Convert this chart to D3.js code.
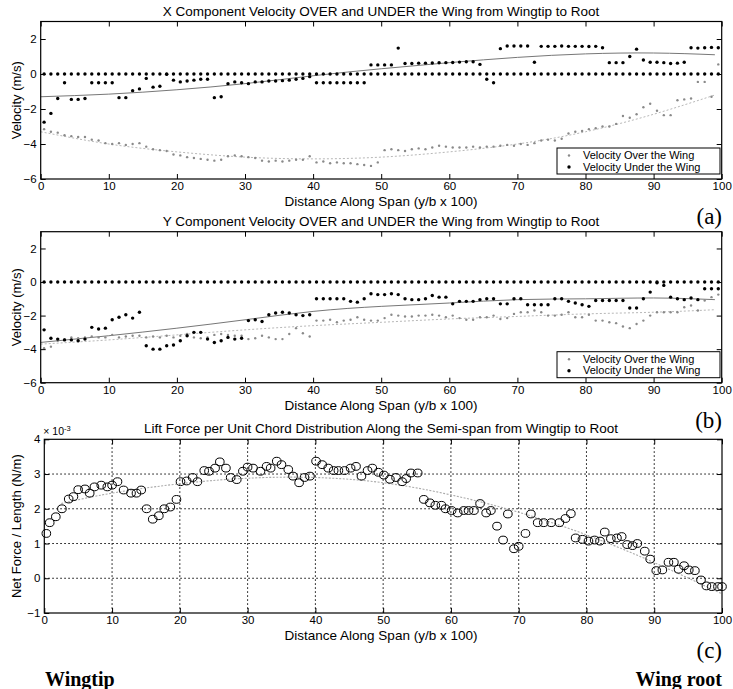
<!DOCTYPE html>
<html>
<head>
<meta charset="utf-8">
<script src="https://cdn.jsdelivr.net/npm/d3@7/dist/d3.min.js"></script>
<style>
body { margin: 0; background: #fff; }
svg text { font-family: "Liberation Sans", Arial, sans-serif; fill: #000; }
.serif { font-family: "Liberation Serif", "DejaVu Serif", serif; }
</style>
</head>
<body>
<svg id="fig" width="733" height="689"></svg>
<script>
// span stations (y/b x 100) for the velocity panels
var spanX = d3.range(0.5, 100, 1);
var spanTicks = [0, 10, 20, 30, 40, 50, 60, 70, 80, 90, 100];
var velTicks = [-6, -4, -2, 0, 2];
var liftTicks = [-1, 0, 1, 2, 3, 4];
var fitX = [0, 10, 20, 30, 40, 50, 60, 70, 80, 90, 99];

// (a) X component
var xOver = [-3.15,-3.3,-3.35,-3.5,-3.55,-3.6,-3.6,-3.75,-3.8,-3.95,
  -4.0,-3.95,-4.05,-4.0,-3.95,-4.15,-4.3,-4.35,-4.4,-4.6,
  -4.65,-4.75,-4.8,-4.85,-4.9,-4.95,-4.9,-4.7,-4.65,-4.7,
  -4.75,-4.8,-4.95,-5.0,-4.95,-5.0,-4.95,-4.9,-4.9,-4.7,
  -5.05,-5.0,-5.1,-5.05,-5.1,-5.1,-5.15,-5.2,-5.25,-5.05,
  -4.35,-4.3,-4.35,-4.4,-4.3,-4.25,-4.3,-4.2,-4.1,-4.15,
  -4.2,-4.2,-4.2,-4.15,-4.2,-4.15,-4.15,-4.1,-4.05,-4.1,
  -4.0,-4.05,-3.95,-3.8,-3.75,-3.8,-3.7,-3.4,-3.3,-3.25,
  -3.15,-3.1,-3.0,-3.0,-2.85,-2.4,-2.5,-2.3,-1.9,-1.7,
  -2.1,-2.35,-2.35,-1.5,-1.45,-1.4,-0.45,-0.45,-1.3,0.55];
var xUnder = [-2.75,-2.25,-1.4,-0.5,-1.45,-1.45,-1.4,-0.5,-0.5,-0.5,
  -0.5,-1.35,-1.35,-0.95,-0.85,-0.25,-0.75,-0.7,-0.02,-0.35,
  -0.45,-0.4,-0.35,-0.3,-0.3,-1.35,-1.3,-0.55,-0.45,-0.5,
  -0.55,-0.45,-0.45,-0.4,-0.4,-0.38,-0.35,-0.3,-0.25,-0.15,
  -0.5,-0.5,-0.5,-0.5,-0.5,-0.5,-0.5,-0.5,0.52,0.52,
  0.52,0.52,1.48,0.6,0.6,0.62,0.62,0.63,0.64,0.65,
  0.66,0.68,0.7,0.7,0.55,-0.3,-0.5,1.45,1.6,1.6,
  1.6,1.6,0.67,1.58,1.58,1.58,1.6,1.58,1.58,1.58,
  1.57,1.58,1.5,0.65,0.65,0.65,1.0,1.42,0.8,0.67,
  0.67,0.65,0.6,0.62,0.67,1.5,1.48,1.5,1.52,1.5];
var xUnderFit = [-1.3,-1.15,-0.9,-0.55,-0.1,0.3,0.65,0.95,1.15,1.2,1.1];
var xOverFit = [-3.3,-4.0,-4.45,-4.75,-4.85,-4.75,-4.45,-4.0,-3.3,-2.3,-1.2];

// (b) Y component
var yOver = [-3.95,-3.85,-3.5,-3.4,-3.3,-3.35,-3.3,-3.25,-3.3,-3.3,
  -3.15,-3.3,-3.25,-3.2,-3.2,-3.3,-3.25,-3.3,-3.2,-3.3,
  -3.2,-3.1,-3.3,-3.35,-3.3,-3.15,-3.1,-3.15,-3.2,-3.2,
  -3.4,-3.35,-3.2,-3.3,-3.4,-3.4,-3.1,-2.75,-3.05,-3.25,
  -2.3,-2.3,-2.25,-2.4,-2.3,-2.25,-2.1,-2.25,-2.3,-2.3,
  -2.15,-1.95,-2.0,-2.05,-2.05,-2.0,-2.0,-1.95,-2.0,-2.1,
  -2.0,-2.15,-2.25,-2.25,-2.1,-2.1,-2.0,-2.2,-2.15,-1.9,
  -1.8,-1.8,-1.7,-1.8,-2.0,-2.0,-1.95,-1.8,-2.1,-2.1,
  -1.95,-2.3,-2.3,-2.4,-2.45,-2.65,-2.75,-2.5,-2.3,-2.0,
  -1.8,-1.8,-1.8,-1.8,-1.5,-1.4,-1.7,-1.1,-0.9,-0.75];
var yUnder = [-2.85,-3.35,-3.4,-3.45,-3.45,-3.5,-3.4,-2.7,-2.8,-2.75,
  -2.25,-2.1,-1.95,-2.15,-1.8,-3.8,-4.0,-4.0,-3.8,-3.75,
  -3.5,-3.2,-3.0,-3.0,-3.4,-3.6,-3.5,-3.3,-3.4,-3.35,
  -2.3,-2.25,-2.35,-1.95,-1.85,-1.8,-1.85,-1.95,-2.0,-1.95,
  -1.0,-1.0,-1.0,-1.0,-1.0,-1.15,-1.2,-1.0,-0.7,-0.75,
  -0.75,-0.7,-0.75,-1.0,-1.05,-1.05,-1.0,-0.8,-0.9,-0.9,
  -1.3,-1.15,-1.15,-1.15,-1.05,-1.0,-1.0,-1.3,-1.3,-1.0,
  -1.0,-1.35,-1.35,-1.35,-1.35,-1.0,-1.0,-1.15,-1.25,-1.35,
  -1.45,-1.1,-1.1,-1.1,-1.1,-1.1,-1.55,-1.55,-1.0,-0.6,
  -0.05,-0.2,-0.9,-1.0,-1.05,-0.95,-1.05,-0.4,-0.4,-0.4];
var yUnderFit = [-3.6,-3.2,-2.75,-2.25,-1.75,-1.45,-1.25,-1.05,-1.0,-0.95,-1.05];
var yOverFit = [-3.7,-3.45,-3.15,-2.85,-2.6,-2.4,-2.2,-2.05,-1.9,-1.8,-1.65];

// (c) lift per unit chord, in units of 1e-3 N/m
var liftX = [0.3,0.8,1.7,2.6,3.6,4.3,5.0,6.0,6.7,7.4,
  8.4,9.3,10.0,10.8,11.7,12.8,13.6,14.3,15.1,16.0,
  16.9,17.7,18.6,19.5,20.1,21.0,21.9,22.6,23.6,24.3,
  25.2,25.9,26.8,27.5,28.4,29.3,30.0,30.8,31.9,32.8,
  33.4,34.3,35.0,36.0,36.7,37.6,38.4,39.2,40.1,41.0,
  41.9,42.7,43.4,44.3,45.2,46.0,46.8,47.7,48.4,49.3,
  50.1,51.0,51.9,52.8,53.4,54.1,55.1,56.0,56.9,57.7,
  58.6,59.2,60.1,61.0,61.9,62.6,63.4,64.3,65.2,65.9,
  66.8,67.7,68.4,69.3,70.0,71.0,71.8,72.8,73.7,74.8,
  76.0,76.9,77.7,78.4,79.4,80.3,81.2,82.0,82.7,83.6,
  84.5,85.2,86.0,86.8,87.5,88.6,89.4,90.3,91.2,92.1,
  92.9,93.6,94.4,95.1,96.0,96.9,97.7,98.5,99.4,100.0];
var liftY = [1.29,1.6,1.77,2.0,2.28,2.35,2.55,2.57,2.45,2.63,
  2.68,2.63,2.68,2.78,2.54,2.45,2.45,2.54,2.0,1.7,
  1.8,2.0,2.05,2.27,2.78,2.8,2.9,2.78,3.1,3.08,
  3.17,3.35,3.17,2.9,2.84,3.08,3.2,3.17,3.08,3.22,
  3.17,3.37,3.27,3.13,2.94,2.75,2.9,2.94,3.37,3.27,
  3.17,3.1,3.1,3.1,3.17,3.22,2.94,3.1,3.17,3.05,
  2.97,2.85,2.9,2.78,2.87,3.03,3.03,2.27,2.17,2.1,
  2.1,2.0,1.95,1.88,1.95,1.95,1.95,2.15,1.88,1.95,
  1.5,1.1,1.85,0.85,0.92,1.29,1.85,1.6,1.6,1.6,
  1.6,1.72,1.86,1.16,1.12,1.07,1.1,1.07,1.33,1.14,
  1.16,1.2,0.97,0.94,1.0,0.78,0.55,0.22,0.24,0.46,
  0.46,0.26,0.36,0.24,0.22,-0.05,-0.22,-0.24,-0.24,-0.24];
var liftFitX = [2.5, 10, 20, 30, 40, 50, 60, 70, 80, 90, 100];
var liftFit = [2.15,2.45,2.72,2.88,2.9,2.75,2.4,1.9,1.25,0.45,-0.45];

var svg = d3.select('#fig');

drawVelocity({
  top: 21.5, bottom: 179, left: 40.7, right: 721.7,
  title: 'X Component Velocity OVER and UNDER the Wing from Wingtip to Root',
  over: xOver, under: xUnder, overFit: xOverFit, underFit: xUnderFit,
  tag: '(a)'
});

drawVelocity({
  top: 231.7, bottom: 382.7, left: 40.7, right: 721.7,
  title: 'Y Component Velocity OVER and UNDER the Wing from Wingtip to Root',
  over: yOver, under: yUnder, overFit: yOverFit, underFit: yUnderFit,
  tag: '(b)'
});

drawLift({ top: 439.3, bottom: 613, left: 44.3, right: 722 });

svg.append('text').attr('class', 'serif')
  .attr('x', 45).attr('y', 686)
  .style('font-size', '20px').style('font-weight', 'bold')
  .text('Wingtip');
svg.append('text').attr('class', 'serif')
  .attr('x', 722).attr('y', 686).attr('text-anchor', 'end')
  .style('font-size', '20px').style('font-weight', 'bold')
  .text('Wing root');


function frame(g, x, y, box, yTicks) {
  g.append('g')
    .attr('transform', 'translate(0,' + box.bottom + ')')
    .call(d3.axisBottom(x).tickValues(spanTicks).tickSizeInner(-5).tickSizeOuter(0).tickPadding(3))
    .call(styleAxis);
  g.append('g')
    .attr('transform', 'translate(0,' + box.top + ')')
    .call(d3.axisTop(x).tickValues(spanTicks).tickSizeInner(-5).tickSizeOuter(0).tickFormat(''))
    .call(styleAxis);
  g.append('g')
    .attr('transform', 'translate(' + box.left + ',0)')
    .call(d3.axisLeft(y).tickValues(yTicks).tickSizeInner(-5).tickSizeOuter(0).tickPadding(4).tickFormat(d3.format('d')))
    .call(styleAxis);
  g.append('g')
    .attr('transform', 'translate(' + box.right + ',0)')
    .call(d3.axisRight(y).tickValues(yTicks).tickSizeInner(-5).tickSizeOuter(0).tickFormat(''))
    .call(styleAxis);
  g.append('rect')
    .attr('x', box.left).attr('y', box.top)
    .attr('width', box.right - box.left).attr('height', box.bottom - box.top)
    .attr('fill', 'none').attr('stroke', '#000').attr('stroke-width', 1.2);
}

function styleAxis(sel) {
  sel.select('.domain').remove();
  sel.selectAll('.tick line').attr('stroke', '#000');
  sel.selectAll('.tick text')
    .style('font-family', '"Liberation Sans", Arial, sans-serif')
    .style('font-size', '11.5px');
}

function labels(box, title, tag, xlab, ylab) {
  var cx = 381;
  svg.append('text')
    .attr('x', cx).attr('y', box.top - 6).attr('text-anchor', 'middle')
    .style('font-size', '13.5px')
    .text(title);
  svg.append('text')
    .attr('x', cx).attr('y', box.bottom + 27).attr('text-anchor', 'middle')
    .style('font-size', '13.5px')
    .text(xlab);
  svg.append('text')
    .attr('transform', 'translate(21,' + ((box.top + box.bottom) / 2) + ') rotate(-90)')
    .attr('text-anchor', 'middle')
    .style('font-size', '13px')
    .text(ylab);
  svg.append('text').attr('class', 'serif')
    .attr('x', 722).attr('y', box.bottom + 45).attr('text-anchor', 'end')
    .style('font-size', '23px')
    .text(tag);
}

function drawVelocity(cfg) {
  var g = svg.append('g');
  var x = d3.scaleLinear().domain([0, 100]).range([cfg.left, cfg.right]);
  var y = d3.scaleLinear().domain([-6, 3]).range([cfg.bottom, cfg.top]);

  var line = d3.line()
    .x(function (d, i) { return x(fitX[i]); })
    .y(function (d) { return y(d); })
    .curve(d3.curveNatural);

  g.append('path').datum(cfg.overFit)
    .attr('d', line).attr('fill', 'none')
    .attr('stroke', '#b8b8b8').attr('stroke-width', 1).attr('stroke-dasharray', '2,2');
  g.append('path').datum(cfg.underFit)
    .attr('d', line).attr('fill', 'none')
    .attr('stroke', '#777').attr('stroke-width', 1);

  // zero-velocity (masked) stations sit on the 0 line
  g.selectAll('.zero').data(spanX).enter().append('circle')
    .attr('cx', function (d) { return x(d); })
    .attr('cy', y(0))
    .attr('r', 1.7).attr('fill', '#000');

  g.selectAll('.over').data(cfg.over).enter().append('circle')
    .attr('cx', function (d, i) { return x(spanX[i]); })
    .attr('cy', function (d) { return y(d); })
    .attr('r', 1.2).attr('fill', '#8a8a8a');

  g.selectAll('.under').data(cfg.under).enter().append('circle')
    .attr('cx', function (d, i) { return x(spanX[i]); })
    .attr('cy', function (d) { return y(d); })
    .attr('r', 1.7).attr('fill', '#000');

  frame(g, x, y, cfg, velTicks);

  // legend, bottom right
  var lx = 557, ly = cfg.bottom - 31;
  var leg = g.append('g');
  leg.append('rect')
    .attr('x', lx).attr('y', ly).attr('width', 163).attr('height', 26)
    .attr('fill', '#fff').attr('stroke', '#000').attr('stroke-width', 1);
  leg.append('circle').attr('cx', lx + 12).attr('cy', ly + 7.5).attr('r', 1.2).attr('fill', '#8a8a8a');
  leg.append('circle').attr('cx', lx + 12).attr('cy', ly + 19).attr('r', 1.7).attr('fill', '#000');
  leg.append('text').attr('x', lx + 26).attr('y', ly + 11).style('font-size', '11px')
    .text('Velocity Over the Wing');
  leg.append('text').attr('x', lx + 26).attr('y', ly + 22.5).style('font-size', '11px')
    .text('Velocity Under the Wing');

  labels(cfg, cfg.title, cfg.tag, 'Distance Along Span (y/b x 100)', 'Velocity (m/s)');
}

function drawLift(box) {
  var g = svg.append('g');
  var x = d3.scaleLinear().domain([0, 100]).range([box.left, box.right]);
  var y = d3.scaleLinear().domain([-1, 4]).range([box.bottom, box.top]);

  // dotted grid
  g.selectAll('.gx').data(spanTicks.slice(1, -1)).enter().append('line')
    .attr('x1', function (d) { return x(d); }).attr('x2', function (d) { return x(d); })
    .attr('y1', box.top).attr('y2', box.bottom)
    .attr('stroke', '#000').attr('stroke-width', 1).attr('stroke-dasharray', '1.5,2.5');
  g.selectAll('.gy').data(liftTicks.slice(1, -1)).enter().append('line')
    .attr('y1', function (d) { return y(d); }).attr('y2', function (d) { return y(d); })
    .attr('x1', box.left).attr('x2', box.right)
    .attr('stroke', '#000').attr('stroke-width', 1).attr('stroke-dasharray', '1.5,2.5');

  var line = d3.line()
    .x(function (d, i) { return x(liftFitX[i]); })
    .y(function (d) { return y(d); })
    .curve(d3.curveNatural);
  g.append('path').datum(liftFit)
    .attr('d', line).attr('fill', 'none')
    .attr('stroke', '#aaa').attr('stroke-width', 1.1).attr('stroke-dasharray', '2,1.5');

  g.selectAll('.pt').data(liftY).enter().append('ellipse')
    .attr('cx', function (d, i) { return x(liftX[i]); })
    .attr('cy', function (d) { return y(d); })
    .attr('rx', 4.3).attr('ry', 3.9)
    .attr('fill', 'none').attr('stroke', '#000').attr('stroke-width', 1);

  frame(g, x, y, box, liftTicks);

  var ex = svg.append('text').attr('x', box.left - 1).attr('y', box.top - 4).style('font-size', '10.5px');
  ex.append('tspan').text('\u00d7 10');
  ex.append('tspan').attr('dy', -4).style('font-size', '7.5px').text('-3');

  labels(box, 'Lift Force per Unit Chord Distribution Along the Semi-span from Wingtip to Root', '(c)',
    'Distance Along Span (y/b x 100)', 'Net Force / Length (N/m)');
}
</script>
</body>
</html>
